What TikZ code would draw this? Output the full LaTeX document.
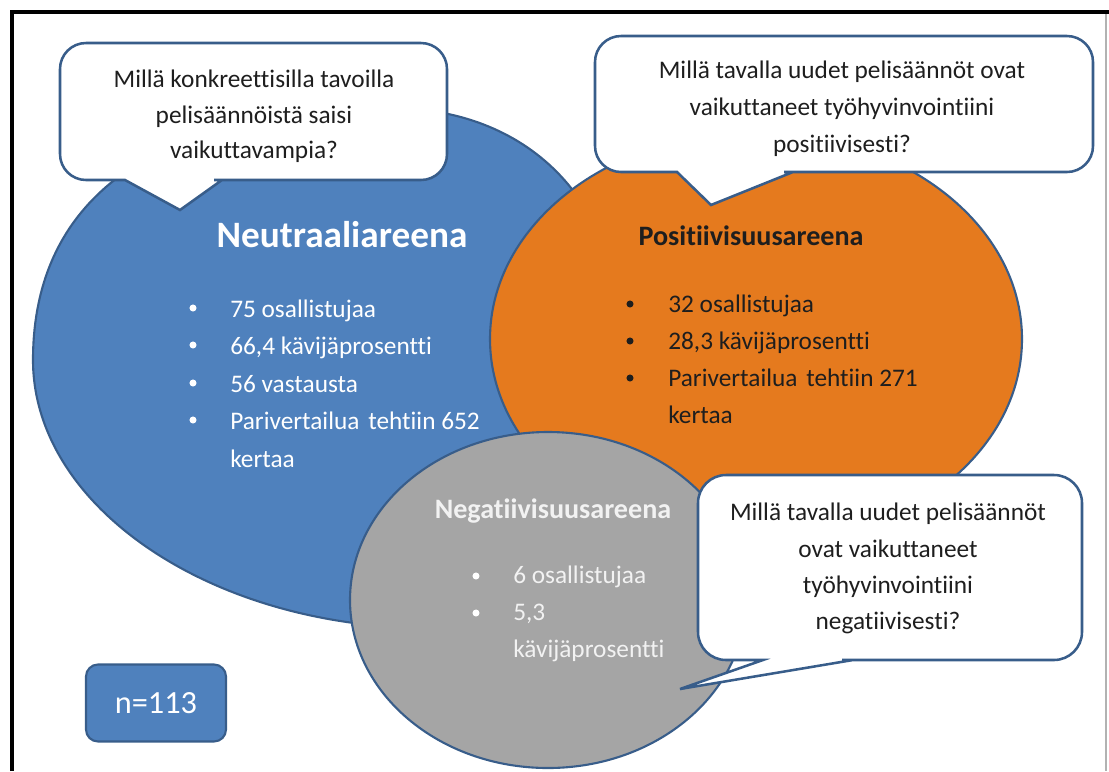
\documentclass[tikz,border=0pt]{standalone}
\usepackage{fontspec}
\setmainfont{Carlito}[Ligatures=NoCommon]
\definecolor{bluefill}{HTML}{4F81BD}
\definecolor{outl}{HTML}{385D8A}
\definecolor{orng}{RGB}{229,122,30}
\definecolor{greyfill}{HTML}{A5A5A5}
\definecolor{negtext}{HTML}{F2F2F2}
\definecolor{qcol}{HTML}{1E1E1E}
\begin{document}
\begin{tikzpicture}[x=0.25mm,y=-0.25mm,
  arena/.style={draw=outl, line width=1.5pt},
  bubble/.style={draw=outl, fill=white, line width=1.8pt, line join=miter},
  qtext/.style={font=\fontsize{18}{22}\selectfont, text=qcol, inner sep=0pt, anchor=base},
  btext/.style={font=\fontsize{18}{22}\selectfont, inner sep=0pt, anchor=base west},
  ttl/.style={inner sep=0pt, anchor=base},
  dot/.style={circle, fill=#1, inner sep=0pt, minimum size=5pt}]
\useasboundingbox (0,0) rectangle (1109,771);
% frame
\draw[line width=3pt] (12,771) -- (12,12) -- (1109,12);
\draw[gray!60, line width=0.8pt] (1106,14) -- (1106,771);
% arenas
\draw[arena, fill=bluefill] (33,360) .. controls (33,196) and (158,108) .. (390,108)
  .. controls (528,108) and (620,201) .. (620,340)
  .. controls (620,498) and (534,628) .. (430,628)
  .. controls (212,628) and (33,507) .. cycle;
\draw[arena, fill=orng] (756,339) ellipse [x radius=266, y radius=207];
\draw[arena, fill=greyfill] (548,600) ellipse [x radius=198, y radius=168];
% neutral
\node[ttl, font=\bfseries\fontsize{26.5}{30}\selectfont, text=white] (ntitle) at (342,247) {Neutraaliareena};
\node[btext, text=white] (n1) at (230,317) {75 osallistujaa};
\node[btext, text=white] (n2) at (230,354) {66,4 kävijäprosentti};
\node[btext, text=white] (n3) at (230,392) {56 vastausta};
\node[btext, text=white] (n4) at (230,429) {Parivertailua\hspace{0.35em}tehtiin 652};
\node[btext, text=white] (n5) at (230,467) {kertaa};
\foreach \yy/\nm in {308/nd1,345/nd2,383/nd3,420/nd4} \node[dot=white] (\nm) at (193,\yy) {};
% positive
\node[ttl, font=\bfseries\fontsize{20}{24}\selectfont, text=qcol] (ptitle) at (751,245) {Positiivisuusareena};
\node[btext, text=qcol] (p1) at (668,312) {32 osallistujaa};
\node[btext, text=qcol] (p2) at (668,349) {28,3 kävijäprosentti};
\node[btext, text=qcol] (p3) at (668,386) {Parivertailua\hspace{0.35em}tehtiin 271};
\node[btext, text=qcol] (p4) at (668,423) {kertaa};
\foreach \yy/\nm in {304/pd1,341/pd2,378/pd3} \node[dot=qcol] (\nm) at (630,\yy) {};
% negative
\node[ttl, font=\bfseries\fontsize{20}{24}\selectfont, text=negtext] (gtitle) at (553,518) {Negatiivisuusareena};
\node[btext, text=negtext] (g1) at (513,583) {6 osallistujaa};
\node[btext, text=negtext] (g2) at (513,620) {5,3};
\node[btext, text=negtext] (g3) at (513,657) {kävijäprosentti};
\foreach \yy/\nm in {576/gd1,613/gd2} \node[dot=white] (\nm) at (476,\yy) {};
% bubble 1
\draw[bubble] (253,43) [rounded corners=6.5mm] -- (447,43) -- (447,180) -- (240,180)
  [sharp corners] -- (222,180) -- (180,210) -- (125,180) -- (110,180)
  [rounded corners=6.5mm] -- (60,180) -- (60,43) -- cycle;
\node[qtext] (q1a) at (254,87) {Millä konkreettisilla tavoilla};
\node[qtext] (q1b) at (254,123) {pelisäännöistä saisi};
\node[qtext] (q1c) at (254,158) {vaikuttavampia?};
% bubble 2
\draw[bubble] (840,36) [rounded corners=6.5mm] -- (1093,36) -- (1093,172) -- (810,172)
  [sharp corners] -- (793,172) -- (711,205) -- (677,172) -- (660,172)
  [rounded corners=6.5mm] -- (595,172) -- (595,36) -- cycle;
\node[qtext] (q2a) at (842,78) {Millä tavalla uudet pelisäännöt ovat};
\node[qtext] (q2b) at (842,115) {vaikuttaneet työhyvinvointiini};
\node[qtext] (q2c) at (842,152) {positiivisesti?};
% bubble 3
\draw[bubble] (890,475) [rounded corners=7mm] -- (1082,475) -- (1082,660) -- (870,660)
  [sharp corners] -- (853,660) -- (680,689) -- (763,660) -- (745,660)
  [rounded corners=7mm] -- (698,660) -- (698,475) -- cycle;
\node[qtext] (q3a) at (888,520) {Millä tavalla uudet pelisäännöt};
\node[qtext] (q3b) at (888,557) {ovat vaikuttaneet};
\node[qtext] (q3c) at (888,593) {työhyvinvointiini};
\node[qtext] (q3d) at (888,629) {negatiivisesti?};
% n box
\node[draw=outl, fill=bluefill, line width=1.5pt, rounded corners=3mm,
  minimum width=140*0.25mm, minimum height=77*0.25mm, text=white,
  font=\fontsize{23}{26}\selectfont] (nbox) at (156,703) {n=113};
\end{tikzpicture}
\end{document}
